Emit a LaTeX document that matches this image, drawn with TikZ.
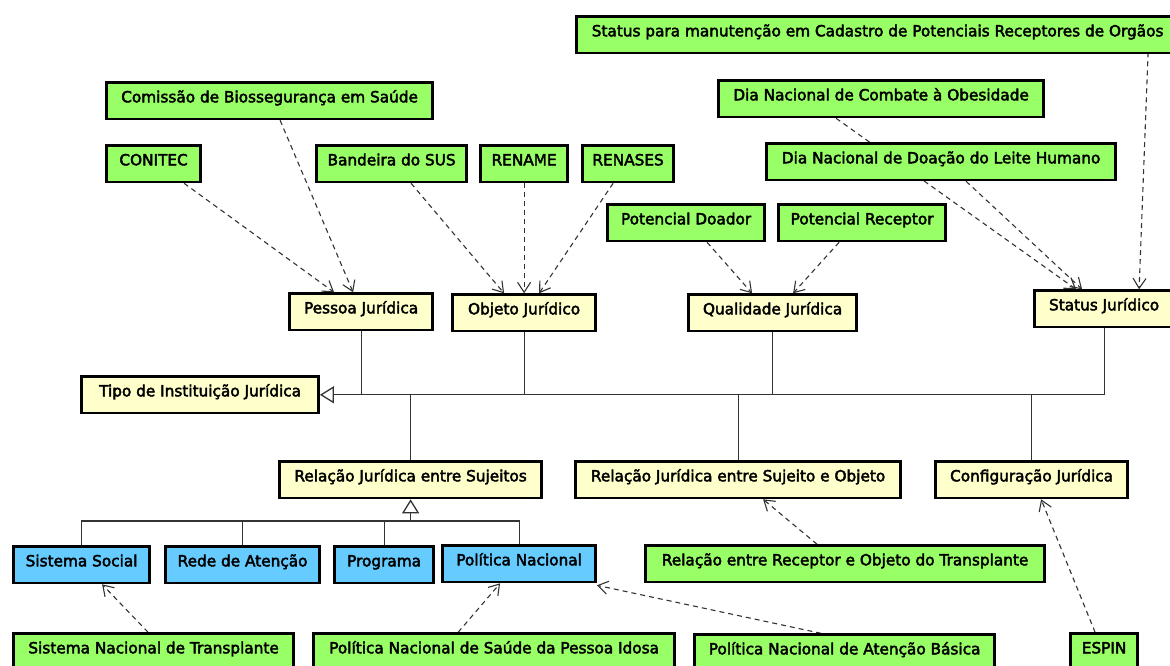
\documentclass[tikz,border=0pt]{standalone}
\usepackage{fontspec}
\setmainfont{DejaVu Sans}[FakeBold=2.8]
\usetikzlibrary{arrows.meta,backgrounds,calc}
\definecolor{gfill}{HTML}{99FF66}
\definecolor{yfill}{HTML}{FFFFCC}
\definecolor{bfill}{HTML}{66CCFF}
\definecolor{lcol}{HTML}{333333}
\begin{document}
\begin{tikzpicture}[x=1pt,y=-1pt,
  box/.style={draw=black, line width=2.6pt, inner xsep=0pt, inner ysep=0pt,
    text height=19.7pt, text depth=16.7pt, anchor=north west, align=center,
    font=\fontsize{15.3}{17}\selectfont},
  gbox/.style={box, fill=gfill},
  ybox/.style={box, fill=yfill},
  bbox/.style={box, fill=bfill},
  dep/.style={draw=lcol, line width=1.1pt, dash pattern=on 5pt off 4pt,
    -{Straight Barb[length=10pt,width=13pt,line width=1.1pt]}},
  gen/.style={draw=lcol, line width=1.2pt},
  gentip/.style={gen, -{Triangle[open,length=14pt,width=17pt,line width=1.3pt]}}
]
\useasboundingbox (0,0) rectangle (1170,666);
% green
\node[gbox, minimum width=602pt] (stm) at (575.3,15.3) {Status para manutenção em Cadastro de Potenciais Receptores de Orgãos};
\node[gbox, minimum width=326pt] (comissao) at (105.3,81.3) {Comissão de Biossegurança em Saúde};
\node[gbox, minimum width=325pt] (obesidade) at (717.3,79.3) {Dia Nacional de Combate à Obesidade};
\node[gbox, minimum width=94pt] (conitec) at (105.3,144.3) {CONITEC};
\node[gbox, minimum width=150pt] (bandeira) at (315.3,144.3) {Bandeira do SUS};
\node[gbox, minimum width=87pt] (rename) at (479.3,144.3) {RENAME};
\node[gbox, minimum width=91pt] (renases) at (581.3,144.3) {RENASES};
\node[gbox, minimum width=349pt] (doacao) at (765.3,142.3) {Dia Nacional de Doação do Leite Humano};
\node[gbox, minimum width=157pt] (pdoador) at (606.3,203.3) {Potencial Doador};
\node[gbox, minimum width=167pt] (preceptor) at (777.3,203.3) {Potencial Receptor};
\node[gbox, minimum width=399pt] (receptorobj) at (644.3,544.3) {Relação entre Receptor e Objeto do Transplante};
\node[gbox, minimum width=280pt] (snt) at (12.3,632.3) {Sistema Nacional de Transplante};
\node[gbox, minimum width=361pt] (pnidosa) at (312.3,632.3) {Política Nacional de Saúde da Pessoa Idosa};
\node[gbox, minimum width=300pt] (pnab) at (693.3,633.3) {Política Nacional de Atenção Básica};
\node[gbox, minimum width=67pt] (espin) at (1069.3,632.3) {ESPIN};
% yellow
\node[ybox, minimum width=143pt] (pessoa) at (288.3,292.3) {Pessoa Jurídica};
\node[ybox, minimum width=143pt] (objeto) at (451.3,293.3) {Objeto Jurídico};
\node[ybox, minimum width=168pt] (qualidade) at (687.3,293.3) {Qualidade Jurídica};
\node[ybox, minimum width=139pt] (statusj) at (1033.3,289.3) {Status Jurídico};
\node[ybox, minimum width=237pt] (tipo) at (80.3,375.3) {Tipo de Instituição Jurídica};
\node[ybox, minimum width=262pt] (sujeitos) at (278.3,460.3) {Relação Jurídica entre Sujeitos};
\node[ybox, minimum width=325pt] (sujobj) at (574.3,460.3) {Relação Jurídica entre Sujeito e Objeto};
\node[ybox, minimum width=192pt] (config) at (934.3,460.3) {Configuração Jurídica};
% blue
\node[bbox, minimum width=136pt] (sissocial) at (12.3,545.3) {Sistema Social};
\node[bbox, minimum width=154pt] (rede) at (164.3,545.3) {Rede de Atenção};
\node[bbox, minimum width=99pt] (programa) at (333.3,545.3) {Programa};
\node[bbox, minimum width=153pt] (politica) at (441.3,544.3) {Política Nacional};
\coordinate (bar) at (0,521);
\begin{scope}[on background layer]
\fill[white] (0,0) rectangle (1170,666);
% generalization tree
\draw[gentip] (statusj.south) |- (tipo.east);
\draw[gen] (pessoa.south) -- (pessoa.south |- tipo.east);
\draw[gen] (objeto.south) -- (objeto.south |- tipo.east);
\draw[gen] (qualidade.south) -- (qualidade.south |- tipo.east);
\draw[gen] (sujeitos.north) -- (sujeitos.north |- tipo.east);
\draw[gen] (sujobj.north) -- (sujobj.north |- tipo.east);
\draw[gen] (config.north) -- (config.north |- tipo.east);
\draw[gen] (sissocial.north) -- (sissocial.north |- bar) -- (politica.north |- bar) -- (politica.north);
\draw[gen] (rede.north) -- (rede.north |- bar);
\draw[gen] (programa.north) -- (programa.north |- bar);
\draw[gentip] (sujeitos.south |- bar) -- (sujeitos.south);
% dependencies
\draw[dep] ([xshift=30.5pt]conitec.south) -- ([xshift=-27pt]pessoa.north);
\draw[dep] ([xshift=10.5pt]comissao.south) -- ([xshift=-8pt]pessoa.north);
\draw[dep] ([xshift=19.5pt]bandeira.south) -- ([xshift=-20pt]objeto.north);
\draw[dep] (rename.south) -- (rename.south |- objeto.north);
\draw[dep] ([xshift=-15pt]renases.south) -- ([xshift=15pt]objeto.north);
\draw[dep] ([xshift=21pt]pdoador.south) -- ([xshift=-20.5pt]qualidade.north);
\draw[dep] ([xshift=-23pt]preceptor.south) -- ([xshift=20.5pt]qualidade.north);
\draw[dep] ([xshift=-45pt]obesidade.south) -- ([xshift=-28pt]statusj.north);
\draw[dep] ([xshift=25pt]doacao.south) -- ([xshift=-22pt]statusj.north);
\draw[dep] ([xshift=270.5pt,yshift=2pt]stm.south) -- ([xshift=35pt]statusj.north);
\draw[dep] ([xshift=-28pt]receptorobj.north) -- ([xshift=25pt]sujobj.south);
\draw[dep] ([xshift=-9pt]espin.north) -- ([xshift=9.5pt]config.south);
\draw[dep] ([xshift=-23.5pt]pnab.north) -- ([yshift=-2pt]politica.south east);
\draw[dep] ([xshift=-36pt]pnidosa.north) -- ([xshift=-19pt]politica.south);
\draw[dep] ([xshift=-5.5pt]snt.north) -- ([xshift=20.5pt]sissocial.south);
\end{scope}
\end{tikzpicture}
\end{document}
